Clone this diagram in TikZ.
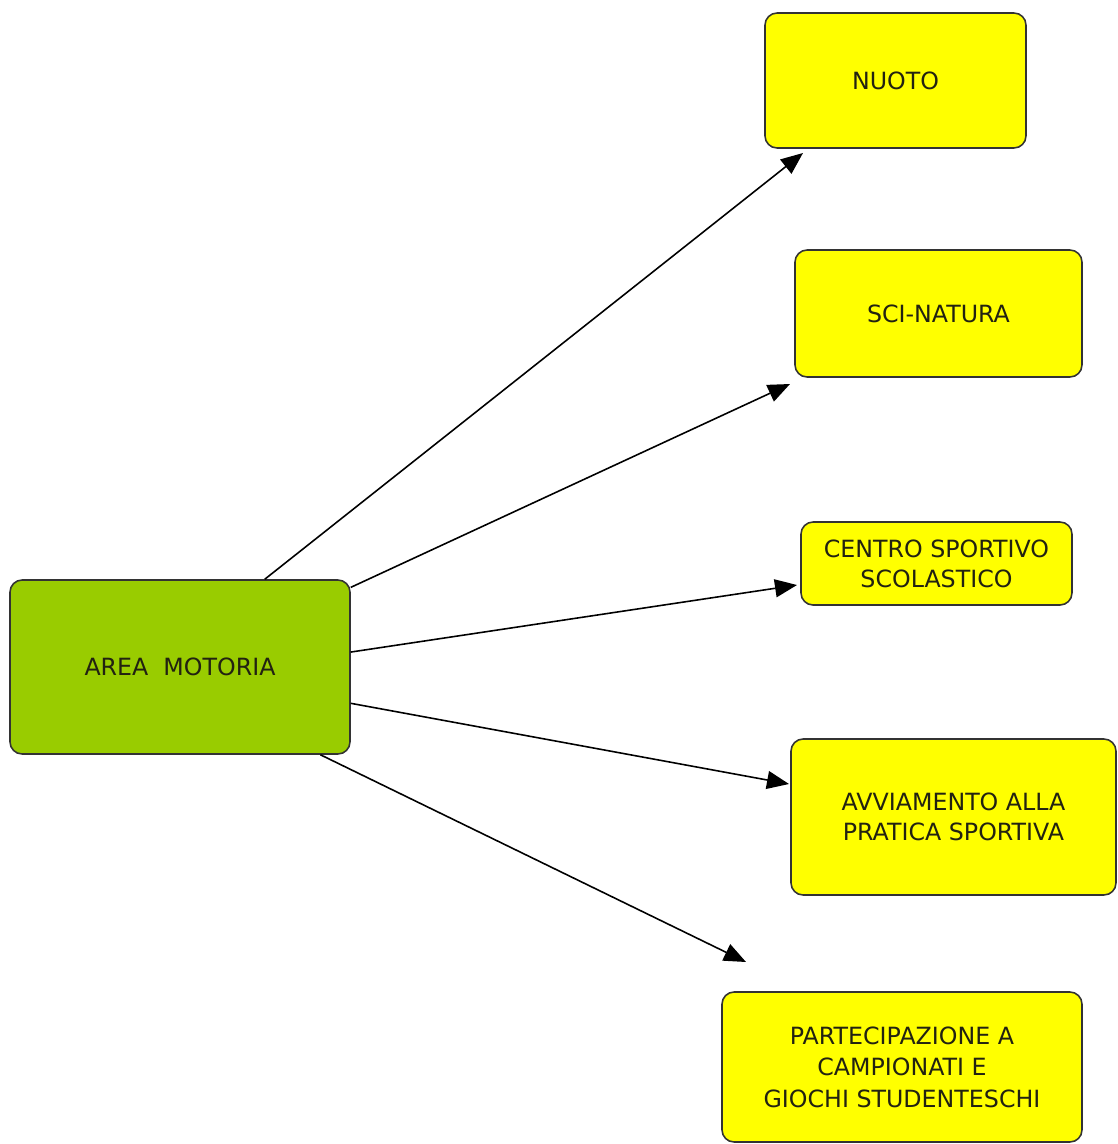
\documentclass[tikz,border=0pt]{standalone}
\usepackage{fontspec}
\setmainfont{DejaVu Sans}
\usetikzlibrary{arrows.meta}

\definecolor{areagreen}{HTML}{99CC00}
\definecolor{boxyellow}{HTML}{FFFF00}
\definecolor{boxline}{HTML}{333333}
\definecolor{boxtext}{HTML}{222211}

\tikzset{
	areabox/.style={draw=boxline, line width=0.9pt, fill=areagreen, rounded corners=0.24cm, inner sep=0pt, align=center, text=boxtext, font=\fontsize{13.5}{17}\selectfont},
	sportbox/.style={draw=boxline, line width=0.9pt, fill=boxyellow, rounded corners=0.24cm, inner sep=0pt, align=center, text=boxtext, font=\fontsize{13.5}{17}\selectfont},
	link/.style={line width=0.9pt, -{Triangle[length=0.44cm, width=0.36cm]}}
}

\begin{document}
\begin{tikzpicture}[x=0.02cm, y=-0.02cm]

	\useasboundingbox (0,0) rectangle (1117,1144);

	\node[areabox, minimum width=6.8cm, minimum height=3.48cm] (area) at (180,667) {AREA\ \ MOTORIA};

	\node[sportbox, minimum width=5.22cm, minimum height=2.7cm] (nuoto) at (895.5,80.5) {NUOTO};
	\node[sportbox, minimum width=5.74cm, minimum height=2.54cm] (sci) at (938.5,313.5) {SCI-NATURA};
	\node[sportbox, minimum width=5.42cm, minimum height=1.66cm] (centro) at (936.5,563.5) {CENTRO SPORTIVO\\SCOLASTICO};
	\node[sportbox, minimum width=6.5cm, minimum height=3.12cm] (avvio) at (953.5,817) {AVVIAMENTO ALLA\\PRATICA SPORTIVA};
	\node[sportbox, minimum width=7.2cm, minimum height=3.0cm, font=\fontsize{13.5}{18}\selectfont] (giochi) at (902,1067) {PARTECIPAZIONE A\\CAMPIONATI E\\GIOCHI STUDENTESCHI};

	\coordinate (tipnuoto) at (803,153);
	\coordinate (tipsci) at (790,384);
	\coordinate (tipcentro) at (797,585);
	\coordinate (tipavvio) at (789,784);
	\coordinate (tipgiochi) at (746,962);

	\draw[link] (area.46) -- (tipnuoto);
	\draw[link] (area.25) -- (tipsci);
	\draw[link] (area.5.7) -- (tipcentro);
	\draw[link] (area.-12) -- (tipavvio);
	\draw[link] (area.-32) -- (tipgiochi);

\end{tikzpicture}
\end{document}
